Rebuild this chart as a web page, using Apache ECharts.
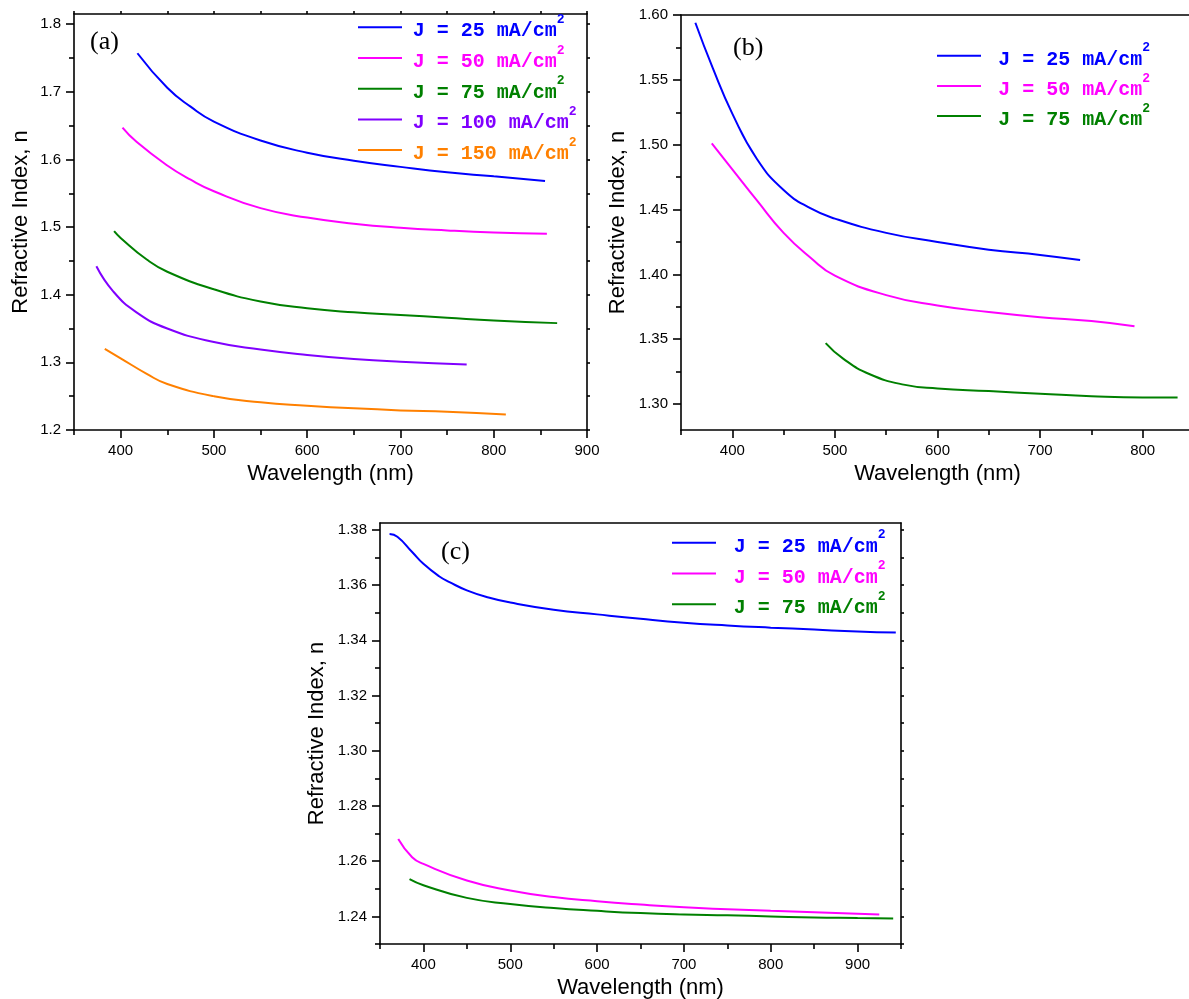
<!DOCTYPE html>
<html><head><meta charset="utf-8">
<script src="https://cdn.jsdelivr.net/npm/echarts@6/dist/echarts.min.js"></script>
<style>html,body{margin:0;padding:0;background:#fff}#c{width:1189px;height:999px}</style>
</head><body><div id="c"></div>
<script>
// ---------- data ----------
const seriesNames = ['J = 25 mA/cm²','J = 50 mA/cm²','J = 75 mA/cm²','J = 100 mA/cm²','J = 150 mA/cm²'];
const seriesColors = ['#0000ff','#ff00ff','#008000','#8000ff','#ff8000'];

// panel (a)
const aJ25  = [[418,1.757],[450,1.706],[475,1.678],[500,1.656],[550,1.628],[600,1.610],[650,1.598],[700,1.589],[750,1.581],[800,1.575],[855,1.568]];
const aJ50  = [[402,1.647],[417,1.626],[450,1.591],[475,1.570],[500,1.553],[550,1.528],[600,1.514],[650,1.505],[700,1.499],[750,1.495],[800,1.492],[857,1.490]];
const aJ75  = [[393,1.494],[400,1.484],[428,1.452],[450,1.434],[500,1.408],[550,1.390],[600,1.380],[650,1.374],[700,1.370],[750,1.366],[800,1.362],[868,1.358]];
const aJ100 = [[374,1.442],[392,1.405],[417,1.374],[450,1.350],[500,1.330],[550,1.319],[600,1.311],[650,1.305],[700,1.301],[771,1.297]];
const aJ150 = [[383,1.320],[400,1.306],[428,1.283],[450,1.268],[500,1.250],[550,1.241],[600,1.236],[650,1.232],[700,1.229],[750,1.227],[813,1.223]];
// panel (b)
const bJ25 = [[364,1.594],[381,1.559],[400,1.524],[424,1.489],[450,1.465],[476,1.451],[500,1.443],[550,1.432],[600,1.425],[650,1.419],[700,1.415],[739,1.411]];
const bJ50 = [[380,1.501],[400,1.481],[424,1.457],[450,1.432],[476,1.413],[500,1.399],[550,1.384],[600,1.376],[650,1.371],[700,1.367],[750,1.364],[792,1.360]];
const bJ75 = [[491,1.347],[508,1.335],[534,1.323],[567,1.315],[600,1.312],[650,1.310],[700,1.308],[750,1.306],[800,1.305],[834,1.305]];
// panel (c)
const cJ25 = [[361,1.3785],[370,1.3775],[387,1.3720],[400,1.3677],[418,1.3632],[430,1.3611],[450,1.3581],[475,1.3555],[500,1.3537],[550,1.3511],[600,1.3494],[650,1.3478],[700,1.3464],[750,1.3454],[800,1.3446],[850,1.3439],[900,1.3432],[944,1.3428]];
const cJ50 = [[371,1.2680],[387,1.2614],[400,1.2590],[450,1.2530],[500,1.2494],[550,1.2470],[600,1.2455],[650,1.2443],[700,1.2433],[750,1.2426],[800,1.2420],[850,1.2415],[925,1.2407]];
const cJ75 = [[384,1.2535],[400,1.2513],[450,1.2467],[500,1.2445],[550,1.2430],[600,1.2420],[650,1.2412],[700,1.2407],[750,1.2404],[800,1.2400],[850,1.2396],[900,1.2394],[941,1.2392]];

// ticks
const aXMajor=[400,500,600,700,800,900], aXMinor=[350,450,550,650,750,850];
const aYMajor=[1.2,1.3,1.4,1.5,1.6,1.7,1.8], aYMinor=[1.25,1.35,1.45,1.55,1.65,1.75];
const bXMajor=[400,500,600,700,800], bXMinor=[350,450,550,650,750,850];
const bYMajor=[1.30,1.35,1.40,1.45,1.50,1.55,1.60], bYMinor=[1.325,1.375,1.425,1.475,1.525,1.575];
const cXMajor=[400,500,600,700,800,900], cXMinor=[350,450,550,650,750,850,950];
const cYMajor=[1.24,1.26,1.28,1.30,1.32,1.34,1.36,1.38], cYMinor=[1.23,1.25,1.27,1.29,1.31,1.33,1.35,1.37];

const xTitle = 'Wavelength (nm)', yTitle = 'Refractive Index, n';
const panelLabels = ['(a)','(b)','(c)'];

// ---------- build ----------
const SANS = '"Liberation Sans", Arial, Helvetica, sans-serif';
const MONO = '"Liberation Mono", "Courier New", monospace';
const SERIF = '"Liberation Serif", "Times New Roman", serif';
const LW = 1.6;
const lineSt = {color:'#000', width:LW};

const xAxes = [], yAxes = [];
function addX(grid, pos, min, max, o){
  xAxes.push(Object.assign({type:'value', gridIndex:grid, position:pos, min, max,
    splitLine:{show:false}, axisLine:{show:false,onZero:false,lineStyle:lineSt},
    axisTick:{show:false}, axisLabel:{show:false}}, o));
}
function addY(grid, pos, min, max, o){
  yAxes.push(Object.assign({type:'value', gridIndex:grid, position:pos, min, max,
    splitLine:{show:false}, axisLine:{show:false,onZero:false,lineStyle:lineSt},
    axisTick:{show:false}, axisLabel:{show:false}}, o));
}
const tick = (len, vals) => ({show:true, inside:false, length:len, customValues:vals, lineStyle:{color:'#000', width:LW}});
const lab = (vals, fmt) => ({show:true, customValues:vals, formatter:fmt, margin:13, color:'#000', fontSize:15, fontFamily:SANS});
const nameSt = {color:'#000', fontSize:22, fontFamily:SANS};

function panel(g, xr, yr, xMaj, xMin, yMaj, yMin, yFmt, opt){
  const xi = xAxes.length, yi = yAxes.length;
  addX(g,'bottom',xr[0],xr[1],{axisLine:{show:true,onZero:false,lineStyle:lineSt}, axisTick:tick(8,xMaj),
    axisLabel:lab(xMaj, v=>String(Math.round(v))), name:xTitle, nameLocation:'middle', nameGap:33, nameTextStyle:nameSt});
  addX(g,'bottom',xr[0],xr[1],{axisTick:tick(5,xMin)});
  addX(g,'top',xr[0],xr[1],{axisLine:{show:true,onZero:false,lineStyle:lineSt}, axisTick: opt.topTicks ? tick(3,xMaj.concat(xMin)) : {show:false}});
  addY(g,'left',yr[0],yr[1],{axisLine:{show:true,onZero:false,lineStyle:lineSt}, axisTick:tick(8,yMaj),
    axisLabel:lab(yMaj, yFmt), name:yTitle, nameLocation:'middle', nameGap:opt.yGap, nameTextStyle:nameSt});
  addY(g,'left',yr[0],yr[1],{axisTick:tick(5,yMin)});
  addY(g,'right',yr[0],yr[1],{axisLine:{show:opt.rightLine,onZero:false,lineStyle:lineSt}, axisTick: opt.rightTicks ? tick(3,yMaj.concat(yMin)) : {show:false}});
  return [xi, yi];
}

const gridBase = {outerBoundsMode:'none', containLabel:false};
const grids = [
  Object.assign({left:74, top:14, width:513, height:416}, gridBase),
  Object.assign({left:681, top:15, width:513, height:415}, gridBase),
  Object.assign({left:380, top:523, width:521, height:421}, gridBase)
];
const [ax, ay] = panel(0,[350,900],[1.2,1.815],aXMajor,aXMinor,aYMajor,aYMinor,v=>v.toFixed(1),{yGap:42,topTicks:true,rightTicks:true,rightLine:true});
const [bx, by] = panel(1,[350,850],[1.28,1.60],bXMajor,bXMinor,bYMajor,bYMinor,v=>v.toFixed(2),{yGap:52,topTicks:false,rightTicks:false,rightLine:false});
const [cx, cy] = panel(2,[350,950],[1.23,1.3825],cXMajor,cXMinor,cYMajor,cYMinor,v=>v.toFixed(2),{yGap:52,topTicks:false,rightTicks:true,rightLine:true});

function ser(nameIdx, data, xi, yi){
  return {type:'line', name:seriesNames[nameIdx], data, xAxisIndex:xi, yAxisIndex:yi,
    smooth:0.5, showSymbol:false, symbol:'none', color:seriesColors[nameIdx],
    lineStyle:{color:seriesColors[nameIdx], width:2}, silent:true};
}
const series = [
  ser(0,aJ25,ax,ay), ser(1,aJ50,ax,ay), ser(2,aJ75,ax,ay), ser(3,aJ100,ax,ay), ser(4,aJ150,ax,ay),
  ser(0,bJ25,bx,by), ser(1,bJ50,bx,by), ser(2,bJ75,bx,by),
  ser(0,cJ25,cx,cy), ser(1,cJ50,cx,cy), ser(2,cJ75,cx,cy)
];

function legendFor(names, left, top, gap, pad){
  const rich = {};
  seriesColors.forEach((c,i)=>{
    rich['t'+i] = {fontFamily:MONO, fontWeight:'bold', fontSize:20, color:c, lineHeight:28, verticalAlign:'bottom', padding:[0,0,0,pad]};
    rich['s'+i] = {fontFamily:MONO, fontWeight:'bold', fontSize:13, color:c, lineHeight:13, verticalAlign:'top'};
  });
  return {orient:'vertical', left, top, padding:0, itemGap:gap, icon:'rect', itemWidth:44, itemHeight:2,
    selectedMode:false, data:names,
    formatter: n => { const i = seriesNames.indexOf(n); return '{t'+i+'|'+n.replace('²','')+'}{s'+i+'|2}'; },
    textStyle:{rich}};
}
const legends = [
  legendFor(seriesNames, 358, 13.3, 2.7, 5.7),
  legendFor(seriesNames.slice(0,3), 937, 41.7, 2.2, 12.3),
  legendFor(seriesNames.slice(0,3), 672, 528.7, 2.8, 12.7)
];
const titleSt = {fontFamily:SERIF, fontSize:26, fontWeight:'normal', color:'#000'};
const titles = [
  {text:panelLabels[0], left:90, top:29, padding:0, textStyle:titleSt},
  {text:panelLabels[1], left:733, top:35, padding:0, textStyle:titleSt},
  {text:panelLabels[2], left:441, top:539, padding:0, textStyle:titleSt}
];

const chart = echarts.init(document.getElementById('c'), null, {renderer:'canvas'});
chart.setOption({
  animation:false, backgroundColor:'#fff',
  title:titles, legend:legends, grid:grids, xAxis:xAxes, yAxis:yAxes, series
});
</script></body></html>
